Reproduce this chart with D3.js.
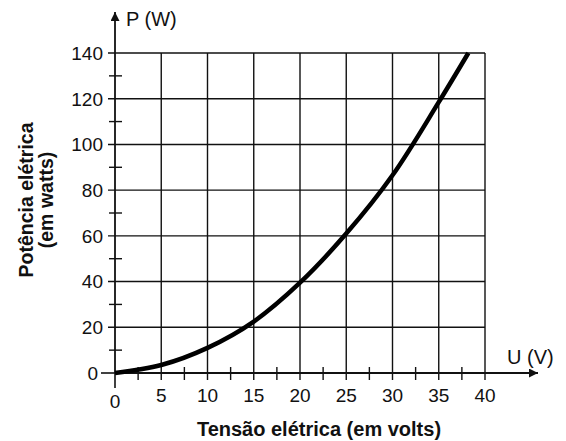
<!DOCTYPE html>
<html>
<head>
<meta charset="utf-8">
<script src="https://cdn.jsdelivr.net/npm/d3@7"></script>
<style>
  body { margin: 0; background: #fff; }
  text { font-family: "Liberation Sans", Arial, sans-serif; fill: #111; }
</style>
</head>
<body>
<div id="chart"></div>
<script>
// CONSTANTS AND GLOBALS
const width = 566,
  height = 441,
  margin = { top: 53, right: 81, bottom: 68, left: 115 };

// data
const tensao = [0, 5, 10, 15, 20, 25, 30, 35, 38.2];
const potencia = [0, 3.5, 11, 22.5, 39.5, 61, 86.5, 118.5, 140];

const xTicks = [0, 5, 10, 15, 20, 25, 30, 35, 40];
const xMinor = [2.5, 7.5, 12.5, 17.5, 22.5, 27.5, 32.5, 37.5];
const yTicks = [0, 20, 40, 60, 80, 100, 120, 140];
const yMinor = [10, 30, 50, 70, 90, 110, 130];

const xLabel = "U (V)",
  yLabel = "P (W)",
  xTitle = "Tensão elétrica (em volts)",
  yTitle = ["Potência elétrica", "(em watts)"];

const ink = "#111";

// SCALES
const xScale = d3.scaleLinear()
  .domain([0, 40])
  .range([margin.left, width - margin.right]);

const yScale = d3.scaleLinear()
  .domain([0, 140])
  .range([height - margin.bottom, margin.top]);

const svg = d3.select("#chart")
  .append("svg")
  .attr("width", width)
  .attr("height", height);

const x0 = xScale(0), y0 = yScale(0);

// grid - horizontal
svg.append("g")
  .selectAll("line")
  .data(yTicks.filter(d => d > 0))
  .join("line")
  .attr("x1", x0 - 7)
  .attr("x2", xScale(40))
  .attr("y1", d => yScale(d))
  .attr("y2", d => yScale(d))
  .attr("stroke", ink)
  .attr("stroke-width", 1.4);

// grid - vertical
svg.append("g")
  .selectAll("line")
  .data(xTicks.filter(d => d > 0))
  .join("line")
  .attr("x1", d => xScale(d))
  .attr("x2", d => xScale(d))
  .attr("y1", yScale(140))
  .attr("y2", y0 + 7)
  .attr("stroke", ink)
  .attr("stroke-width", 1.4);

// minor ticks
svg.append("g")
  .selectAll("line")
  .data(yMinor)
  .join("line")
  .attr("x1", x0 - 6)
  .attr("x2", x0 + 7)
  .attr("y1", d => yScale(d))
  .attr("y2", d => yScale(d))
  .attr("stroke", ink)
  .attr("stroke-width", 1.4);

svg.append("g")
  .selectAll("line")
  .data(xMinor)
  .join("line")
  .attr("x1", d => xScale(d))
  .attr("x2", d => xScale(d))
  .attr("y1", y0 - 6)
  .attr("y2", y0 + 7)
  .attr("stroke", ink)
  .attr("stroke-width", 1.4);

// zero ticks
svg.append("line")
  .attr("x1", x0 - 14).attr("x2", x0)
  .attr("y1", y0).attr("y2", y0)
  .attr("stroke", ink).attr("stroke-width", 1.6);
svg.append("line")
  .attr("x1", x0).attr("x2", x0)
  .attr("y1", y0).attr("y2", y0 + 15)
  .attr("stroke", ink).attr("stroke-width", 1.6);

// AXES with arrows
svg.append("defs").append("marker")
  .attr("id", "arrow")
  .attr("viewBox", "0 0 10 10")
  .attr("refX", 10).attr("refY", 5)
  .attr("markerWidth", 5).attr("markerHeight", 5)
  .attr("markerUnits", "strokeWidth")
  .attr("orient", "auto")
  .append("path")
  .attr("d", "M0,0 L10,5 L0,10 z")
  .attr("fill", ink);

svg.append("line")
  .attr("x1", x0).attr("x2", 538)
  .attr("y1", y0).attr("y2", y0)
  .attr("stroke", ink).attr("stroke-width", 1.8)
  .attr("marker-end", "url(#arrow)");

svg.append("line")
  .attr("x1", x0).attr("x2", x0)
  .attr("y1", y0).attr("y2", 12)
  .attr("stroke", ink).attr("stroke-width", 1.8)
  .attr("marker-end", "url(#arrow)");

// tick labels
svg.append("g")
  .selectAll("text")
  .data(yTicks)
  .join("text")
  .attr("x", d => d === 0 ? x0 - 17 : x0 - 12)
  .attr("y", d => yScale(d))
  .attr("dy", "0.36em")
  .attr("text-anchor", "end")
  .attr("font-size", 19)
  .text(d => d);

svg.append("g")
  .selectAll("text")
  .data(xTicks)
  .join("text")
  .attr("x", d => xScale(d))
  .attr("y", d => d === 0 ? 408 : 402)
  .attr("text-anchor", "middle")
  .attr("font-size", 19)
  .text(d => d);

// axis labels
svg.append("text")
  .attr("x", x0 + 11).attr("y", 26)
  .attr("font-size", 20)
  .text(yLabel);

svg.append("text")
  .attr("x", 507).attr("y", 364)
  .attr("font-size", 20)
  .text(xLabel);

svg.append("text")
  .attr("x", 319).attr("y", 436)
  .attr("text-anchor", "middle")
  .attr("font-size", 20)
  .attr("font-weight", "bold")
  .text(xTitle);

svg.append("g")
  .attr("transform", "translate(0,200) rotate(-90)")
  .selectAll("text")
  .data(yTitle)
  .join("text")
  .attr("x", 0)
  .attr("y", (d, i) => 33 + i * 20)
  .attr("text-anchor", "middle")
  .attr("font-size", 19.5)
  .attr("font-weight", "bold")
  .text(d => d);

// CURVE
const points = tensao.map((u, i) => [u, potencia[i]]);

const line = d3.line()
  .x(d => xScale(d[0]))
  .y(d => yScale(d[1]))
  .curve(d3.curveCatmullRom);

svg.append("path")
  .datum(points)
  .attr("d", line)
  .attr("fill", "none")
  .attr("stroke", "#000")
  .attr("stroke-width", 4.5);
</script>
</body>
</html>
